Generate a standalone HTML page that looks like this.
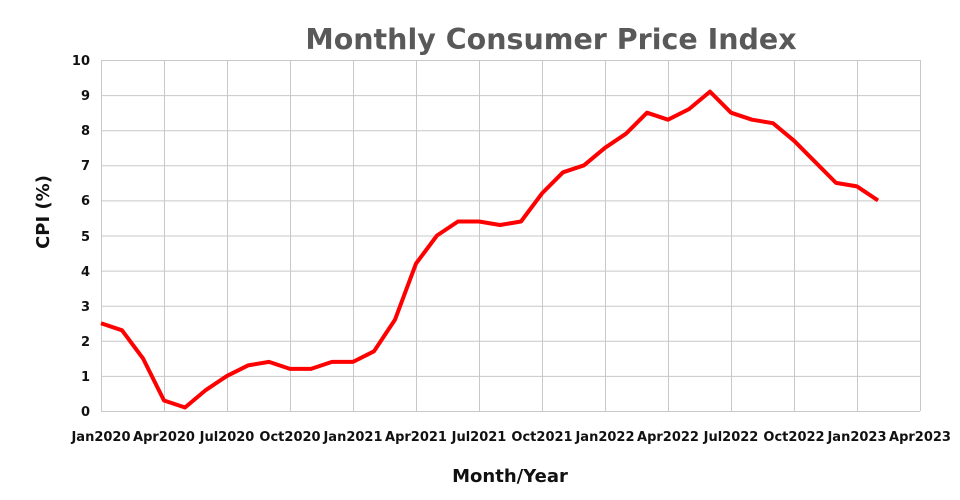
<!DOCTYPE html>
<html><head><meta charset="utf-8"><style>
html,body{margin:0;padding:0;background:#fff;}
svg{display:block;}
text{font-family:"DejaVu Sans","Liberation Sans",sans-serif;font-weight:bold;}
</style></head><body>
<svg width="960" height="500" viewBox="0 0 960 500" xmlns="http://www.w3.org/2000/svg">
<rect width="960" height="500" fill="#fff"/>
<text x="551" y="49" text-anchor="middle" font-size="28.5" fill="#595959">Monthly Consumer Price Index</text>
<g stroke="#c8c8c8" stroke-width="1">
<line x1="101" y1="60.5" x2="920" y2="60.5"/>
<line x1="101" y1="95.6" x2="920" y2="95.6"/>
<line x1="101" y1="130.7" x2="920" y2="130.7"/>
<line x1="101" y1="165.8" x2="920" y2="165.8"/>
<line x1="101" y1="200.9" x2="920" y2="200.9"/>
<line x1="101" y1="236" x2="920" y2="236"/>
<line x1="101" y1="271.1" x2="920" y2="271.1"/>
<line x1="101" y1="306.2" x2="920" y2="306.2"/>
<line x1="101" y1="341.3" x2="920" y2="341.3"/>
<line x1="101" y1="376.4" x2="920" y2="376.4"/>
<line x1="101" y1="411.5" x2="920" y2="411.5"/>
<line x1="101.5" y1="60" x2="101.5" y2="411"/>
<line x1="164.5" y1="60" x2="164.5" y2="411"/>
<line x1="227.5" y1="60" x2="227.5" y2="411"/>
<line x1="290.5" y1="60" x2="290.5" y2="411"/>
<line x1="353.5" y1="60" x2="353.5" y2="411"/>
<line x1="416.5" y1="60" x2="416.5" y2="411"/>
<line x1="479.5" y1="60" x2="479.5" y2="411"/>
<line x1="542.5" y1="60" x2="542.5" y2="411"/>
<line x1="605.5" y1="60" x2="605.5" y2="411"/>
<line x1="668.5" y1="60" x2="668.5" y2="411"/>
<line x1="731.5" y1="60" x2="731.5" y2="411"/>
<line x1="794.5" y1="60" x2="794.5" y2="411"/>
<line x1="857.5" y1="60" x2="857.5" y2="411"/>
<line x1="920.5" y1="60" x2="920.5" y2="411"/>
</g>
<g font-size="13" fill="#111" text-anchor="end">
<text x="90" y="65">10</text><text x="90" y="100">9</text><text x="90" y="135">8</text>
<text x="90" y="170">7</text><text x="90" y="205">6</text><text x="90" y="241">5</text>
<text x="90" y="276">4</text><text x="90" y="311">3</text><text x="90" y="346">2</text>
<text x="90" y="381">1</text><text x="90" y="416">0</text>
</g>
<g font-size="13" fill="#111" text-anchor="middle">
<text x="101" y="441">Jan2020</text><text x="164" y="441">Apr2020</text><text x="227" y="441">Jul2020</text>
<text x="290" y="441">Oct2020</text><text x="353" y="441">Jan2021</text><text x="416" y="441">Apr2021</text>
<text x="479" y="441">Jul2021</text><text x="542" y="441">Oct2021</text><text x="605" y="441">Jan2022</text>
<text x="668" y="441">Apr2022</text><text x="731" y="441">Jul2022</text><text x="794" y="441">Oct2022</text>
<text x="857" y="441">Jan2023</text><text x="920" y="441">Apr2023</text>
</g>
<text x="510" y="482" text-anchor="middle" font-size="18" fill="#111">Month/Year</text>
<text transform="translate(49,212) rotate(-90)" text-anchor="middle" font-size="18" fill="#111">CPI (%)</text>
<polyline fill="none" stroke="#ff0000" stroke-width="4" stroke-linejoin="round" points="101,323.25 122,330.3 143,358.4 164,400.5 185,407.5 206,389.9 227,375.9 248,365.4 269,361.9 290,368.9 311,368.9 332,361.9 353,361.9 374,351.3 395,319.7 416,263.6 437,235.5 458,221.5 479,221.5 500,225 521,221.5 542,193.4 563,172.3 584,165.3 605,147.8 626,133.7 647,112.7 668,119.7 689,109.1 710,91.6 731,112.7 752,119.7 773,123.2 794,140.7 815,161.8 836,182.9 857,186.4 878,200.4"/>
</svg>
</body></html>
